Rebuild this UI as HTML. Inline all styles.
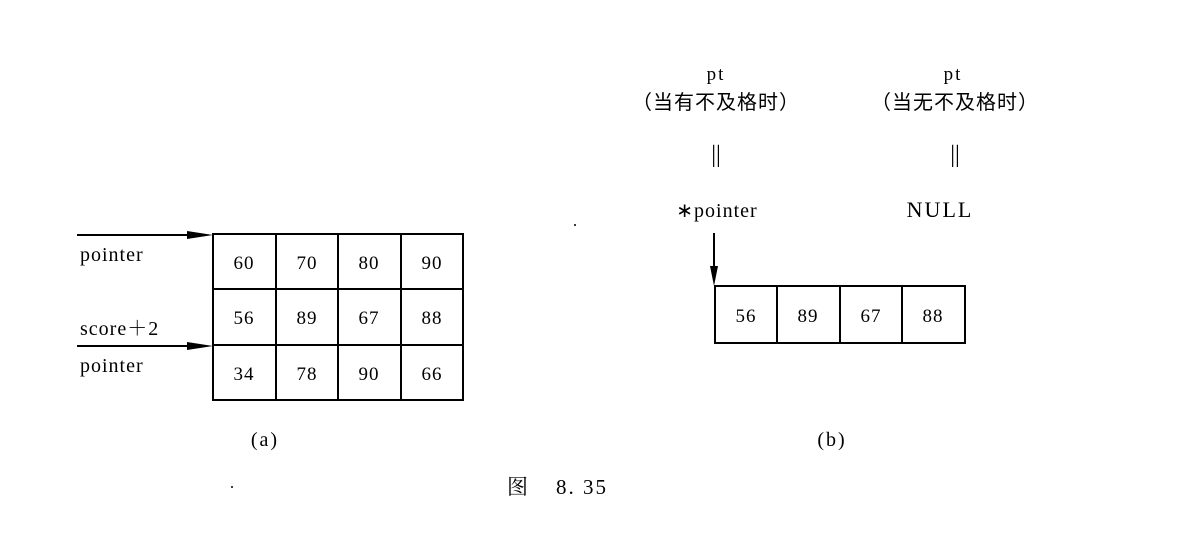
<!DOCTYPE html>
<html><head><meta charset="utf-8"><style>
html,body{margin:0;padding:0;background:#fff;}
svg{display:block}
text{font-family:"Liberation Serif","Noto Serif CJK SC",serif;fill:#000}
.n{font-family:"Liberation Sans Narrow","Liberation Sans",sans-serif;font-size:19px;letter-spacing:1px}
</style></head><body>
<svg width="1180" height="541" viewBox="0 0 1180 541" xmlns="http://www.w3.org/2000/svg">
<g stroke="#000" stroke-width="2" fill="none">
<rect x="213" y="234" width="250" height="166"/>
<line x1="213" y1="289" x2="463" y2="289"/>
<line x1="213" y1="345" x2="463" y2="345"/>
<line x1="276" y1="234" x2="276" y2="400"/>
<line x1="338" y1="234" x2="338" y2="400"/>
<line x1="401" y1="234" x2="401" y2="400"/>
<line x1="77" y1="235" x2="200" y2="235"/>
<line x1="77" y1="346" x2="200" y2="346"/>
<rect x="715" y="286" width="250" height="57"/>
<line x1="777" y1="286" x2="777" y2="343"/>
<line x1="840" y1="286" x2="840" y2="343"/>
<line x1="902" y1="286" x2="902" y2="343"/>
<line x1="714" y1="233" x2="714" y2="272"/>
</g>
<polygon points="187,231 213,235 187,239" fill="#000"/>
<polygon points="187,342 213,346 187,350" fill="#000"/>
<polygon points="710,266 718,266 714,286" fill="#000"/>
<g class="n" text-anchor="middle">
<text x="244" y="269">60</text><text x="307" y="269">70</text><text x="369" y="269">80</text><text x="432" y="269">90</text>
<text x="244" y="324">56</text><text x="307" y="324">89</text><text x="369" y="324">67</text><text x="432" y="324">88</text>
<text x="244" y="380">34</text><text x="307" y="380">78</text><text x="369" y="380">90</text><text x="432" y="380">66</text>
<text x="746" y="322">56</text><text x="808" y="322">89</text><text x="871" y="322">67</text><text x="933" y="322">88</text>
</g>
<g font-size="20" letter-spacing="1">
<text x="80" y="261">pointer</text>
<text x="80" y="335">score＋2</text>
<text x="80" y="372">pointer</text>
</g>
<g text-anchor="middle" font-size="19">
<text x="716" y="80" letter-spacing="2">pt</text>
<text x="953" y="80" letter-spacing="2">pt</text>
<text x="716" y="109" style="font-family:'Noto Sans CJK SC',sans-serif" font-size="20" letter-spacing="1">（当有不及格时）</text>
<text x="955" y="109" style="font-family:'Noto Sans CJK SC',sans-serif" font-size="20" letter-spacing="1">（当无不及格时）</text>
<text x="716" y="162" font-size="24">||</text>
<text x="955" y="162" font-size="24">||</text>
<text x="717" y="217" font-size="20" letter-spacing="1">∗pointer</text>
<text x="940" y="217" font-size="22" letter-spacing="2">NULL</text>
<text x="265" y="446" font-size="20" letter-spacing="2">(a)</text>
<text x="832" y="446" font-size="20" letter-spacing="2">(b)</text>
</g>
<text x="507" y="494" font-size="21" style="font-family:'Noto Serif CJK SC',serif">图</text>
<text x="556" y="494" font-size="21" letter-spacing="2">8. 35</text>
<circle cx="575" cy="225" r="1" fill="#000"/>
<circle cx="232" cy="487" r="1" fill="#000"/>
</svg>
</body></html>
